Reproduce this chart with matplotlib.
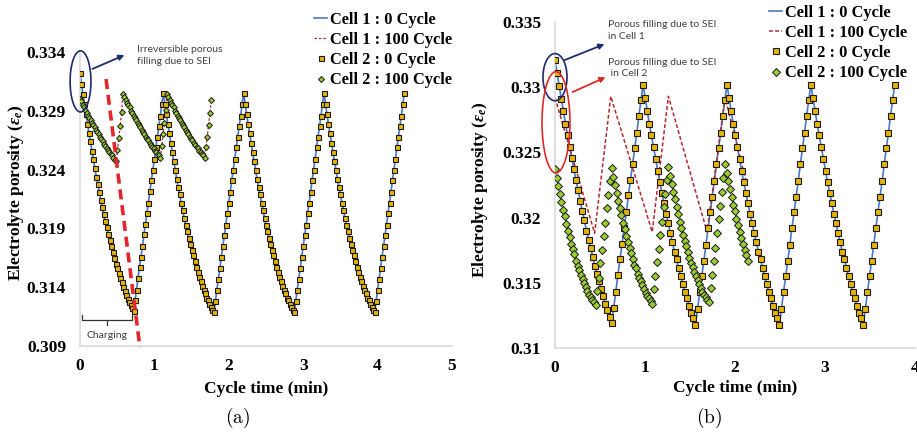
import numpy as np
import matplotlib.pyplot as plt
from matplotlib.patches import Ellipse

plt.rcParams['font.family'] = 'Liberation Serif'
plt.rcParams['font.weight'] = 'bold'
plt.rcParams['mathtext.fontset'] = 'custom'
plt.rcParams['mathtext.rm'] = 'Liberation Serif:bold'
plt.rcParams['mathtext.it'] = 'Liberation Serif:italic:bold'
plt.rcParams['mathtext.bf'] = 'Liberation Serif:bold'

# output interval of each simulated series (min)
step_0_a = 0.02
step_100_a = 0.018
step_0_b = 0.0233
step_100_b = 0.018

# (a) cells 1 and 2 give the same porosity at 0 and at 100 cycles
cell2_0_a = [
    0.3322, 0.3313, 0.3304, 0.3296, 0.3287, 0.3279, 0.3271, 0.3264, 0.3256, 0.3249,
    0.3241, 0.3234, 0.3228, 0.3221, 0.3214, 0.3208, 0.3202, 0.3196, 0.3191, 0.3185,
    0.3180, 0.3175, 0.3170, 0.3165, 0.3160, 0.3156, 0.3152, 0.3148, 0.3144, 0.3140,
    0.3137, 0.3133, 0.3130, 0.3127, 0.3125, 0.3122, 0.3120,
    0.3129, 0.3138, 0.3148, 0.3157, 0.3166, 0.3175, 0.3185, 0.3194, 0.3203, 0.3212,
    0.3222, 0.3231, 0.3240, 0.3249, 0.3259, 0.3268, 0.3277, 0.3286, 0.3296, 0.3305,
    0.3296, 0.3287, 0.3279, 0.3271, 0.3263, 0.3255, 0.3247, 0.3240, 0.3232, 0.3225,
    0.3219, 0.3212, 0.3206, 0.3199, 0.3193, 0.3188, 0.3182, 0.3177, 0.3172, 0.3167,
    0.3162, 0.3157, 0.3153, 0.3149, 0.3145, 0.3141, 0.3138, 0.3135, 0.3131, 0.3129,
    0.3126, 0.3123, 0.3121, 0.3119,
    0.3128, 0.3138, 0.3147, 0.3156, 0.3166, 0.3175, 0.3184, 0.3193, 0.3203, 0.3212,
    0.3221, 0.3231, 0.3240, 0.3249, 0.3259, 0.3268, 0.3277, 0.3286, 0.3296, 0.3305,
    0.3296, 0.3287, 0.3279, 0.3271, 0.3263, 0.3255, 0.3247, 0.3240, 0.3232, 0.3225,
    0.3219, 0.3212, 0.3206, 0.3199, 0.3193, 0.3188, 0.3182, 0.3177, 0.3172, 0.3167,
    0.3162, 0.3157, 0.3153, 0.3149, 0.3145, 0.3141, 0.3138, 0.3135, 0.3131, 0.3129,
    0.3126, 0.3123, 0.3121, 0.3119,
    0.3128, 0.3138, 0.3147, 0.3156, 0.3166, 0.3175, 0.3184, 0.3193, 0.3203, 0.3212,
    0.3221, 0.3231, 0.3240, 0.3249, 0.3259, 0.3268, 0.3277, 0.3286, 0.3296, 0.3305,
    0.3296, 0.3287, 0.3279, 0.3271, 0.3263, 0.3255, 0.3247, 0.3240, 0.3232, 0.3225,
    0.3219, 0.3212, 0.3206, 0.3199, 0.3193, 0.3188, 0.3182, 0.3177, 0.3172, 0.3167,
    0.3162, 0.3157, 0.3153, 0.3149, 0.3145, 0.3141, 0.3138, 0.3135, 0.3131, 0.3129,
    0.3126, 0.3123, 0.3121, 0.3119,
    0.3128, 0.3138, 0.3147, 0.3156, 0.3166, 0.3175, 0.3184, 0.3193, 0.3203, 0.3212,
    0.3221, 0.3231, 0.3240, 0.3249, 0.3259, 0.3268, 0.3277, 0.3286, 0.3296, 0.3305,
]
cell1_0_a = cell2_0_a

cell2_100_a = [
    0.3300, 0.3298, 0.3295, 0.3293, 0.3291, 0.3288, 0.3286, 0.3284, 0.3282, 0.3280,
    0.3278, 0.3276, 0.3274, 0.3272, 0.3270, 0.3268, 0.3266, 0.3264, 0.3262, 0.3260,
    0.3258, 0.3257, 0.3255, 0.3253, 0.3252, 0.3250, 0.3248, 0.3247,
    0.3257, 0.3267, 0.3277, 0.3289, 0.3304,
    0.3302, 0.3299, 0.3297, 0.3295, 0.3293, 0.3290, 0.3288, 0.3286, 0.3284, 0.3282,
    0.3280, 0.3278, 0.3276, 0.3274, 0.3272, 0.3270, 0.3268, 0.3266, 0.3265, 0.3263,
    0.3261, 0.3259, 0.3258, 0.3256, 0.3255, 0.3253, 0.3252, 0.3250,
    0.3260, 0.3270, 0.3280, 0.3291, 0.3304,
    0.3302, 0.3299, 0.3297, 0.3295, 0.3293, 0.3290, 0.3288, 0.3286, 0.3284, 0.3282,
    0.3280, 0.3278, 0.3276, 0.3274, 0.3272, 0.3270, 0.3268, 0.3266, 0.3265, 0.3263,
    0.3261, 0.3259, 0.3258, 0.3256, 0.3255, 0.3253, 0.3252, 0.3250,
    0.3259, 0.3268, 0.3278, 0.3288, 0.3299,
]
cell1_100_a = cell2_100_a

# (b)
cell2_0_b = [
    0.3321, 0.3311, 0.3301, 0.3291, 0.3282, 0.3272, 0.3263, 0.3254, 0.3246, 0.3237,
    0.3229, 0.3221, 0.3213, 0.3205, 0.3198, 0.3190, 0.3183, 0.3177, 0.3170, 0.3163,
    0.3157, 0.3151, 0.3145, 0.3140, 0.3134, 0.3129, 0.3124, 0.3119,
    0.3131, 0.3143, 0.3156, 0.3168, 0.3180, 0.3192, 0.3204, 0.3217, 0.3229, 0.3241,
    0.3253, 0.3265, 0.3278, 0.3290, 0.3302,
    0.3292, 0.3282, 0.3272, 0.3263, 0.3254, 0.3245, 0.3236, 0.3227, 0.3219, 0.3211,
    0.3203, 0.3196, 0.3188, 0.3181, 0.3174, 0.3168, 0.3161, 0.3155, 0.3149, 0.3143,
    0.3138, 0.3132, 0.3127, 0.3123, 0.3118,
    0.3130, 0.3143, 0.3155, 0.3167, 0.3179, 0.3192, 0.3204, 0.3216, 0.3228, 0.3241,
    0.3253, 0.3265, 0.3278, 0.3290, 0.3302,
    0.3292, 0.3282, 0.3272, 0.3263, 0.3254, 0.3245, 0.3236, 0.3227, 0.3219, 0.3211,
    0.3203, 0.3196, 0.3188, 0.3181, 0.3174, 0.3168, 0.3161, 0.3155, 0.3149, 0.3143,
    0.3138, 0.3132, 0.3127, 0.3123, 0.3118,
    0.3130, 0.3143, 0.3155, 0.3167, 0.3179, 0.3192, 0.3204, 0.3216, 0.3228, 0.3241,
    0.3253, 0.3265, 0.3278, 0.3290, 0.3302,
    0.3292, 0.3282, 0.3272, 0.3263, 0.3254, 0.3245, 0.3236, 0.3227, 0.3219, 0.3211,
    0.3203, 0.3196, 0.3188, 0.3181, 0.3174, 0.3168, 0.3161, 0.3155, 0.3149, 0.3143,
    0.3138, 0.3132, 0.3127, 0.3123, 0.3118,
    0.3130, 0.3143, 0.3155, 0.3167, 0.3179, 0.3192, 0.3204, 0.3216, 0.3228, 0.3241,
    0.3253, 0.3265, 0.3278, 0.3290, 0.3302,
]
cell1_0_b = cell2_0_b

cell2_100_b = [
    0.3237, 0.3230, 0.3224, 0.3218, 0.3212, 0.3206, 0.3201, 0.3195, 0.3190, 0.3185,
    0.3180, 0.3176, 0.3172, 0.3167, 0.3163, 0.3160, 0.3156, 0.3153, 0.3150, 0.3147,
    0.3144, 0.3141, 0.3139, 0.3137, 0.3135, 0.3133,
    0.3144, 0.3154, 0.3165, 0.3175, 0.3186, 0.3196, 0.3207, 0.3217, 0.3228, 0.3238,
    0.3231, 0.3225, 0.3219, 0.3213, 0.3207, 0.3202, 0.3196, 0.3191, 0.3186, 0.3181,
    0.3177, 0.3173, 0.3168, 0.3164, 0.3161, 0.3157, 0.3154, 0.3151, 0.3148, 0.3145,
    0.3142, 0.3140, 0.3138, 0.3136, 0.3134,
    0.3145, 0.3155, 0.3166, 0.3176, 0.3187, 0.3197, 0.3208, 0.3218, 0.3229, 0.3239,
    0.3232, 0.3226, 0.3220, 0.3214, 0.3208, 0.3203, 0.3197, 0.3192, 0.3187, 0.3182,
    0.3178, 0.3174, 0.3169, 0.3165, 0.3162, 0.3158, 0.3155, 0.3152, 0.3149, 0.3146,
    0.3143, 0.3141, 0.3139, 0.3137, 0.3135,
    0.3146, 0.3156, 0.3167, 0.3177, 0.3188, 0.3199, 0.3209, 0.3220, 0.3230, 0.3241,
    0.3234, 0.3228, 0.3222, 0.3216, 0.3210, 0.3205, 0.3199, 0.3194, 0.3189, 0.3184,
    0.3180, 0.3175, 0.3171, 0.3167,
]

cell1_100_b_time = [0.0, 0.44, 0.62, 1.08, 1.26, 1.69, 1.89, 2.13]
cell1_100_b = [0.3292, 0.3188, 0.3293, 0.3189, 0.3293, 0.3189, 0.3292, 0.3226]

labels = ['Cell 1 : 0 Cycle', 'Cell 1 : 100 Cycle', 'Cell 2 : 0 Cycle', 'Cell 2 : 100 Cycle']
yticks_a = [0.309, 0.314, 0.319, 0.324, 0.329, 0.334]
yticklabels_a = ['0.309', '0.314', '0.319', '0.324', '0.329', '0.334']
yticks_b = [0.31, 0.315, 0.32, 0.325, 0.33, 0.335]
yticklabels_b = ['0.31', '0.315', '0.32', '0.325', '0.33', '0.335']

BLUE = '#4a78c8'
RED = '#b5272d'
GOLD = '#e6b400'
GREEN = '#9acd32'
NAVY = '#1f2b6e'
NOTE = '#404040'


def times(values, step):
    return np.arange(len(values)) * step


def draw_series(ax, t0, y0, t_c1, y_c1, t100, y100, ms_sq, ms_di, red_lw, red_dash):
    l1, = ax.plot(t0, y0, color=BLUE, lw=1.2, zorder=2)
    l2, = ax.plot(t_c1, y_c1, color=RED, lw=red_lw, dashes=red_dash, zorder=2)
    l3, = ax.plot(t0, y0, ls='none', marker='s', ms=ms_sq, mfc=GOLD, mec='#1a1a1a',
                  mew=0.8, zorder=3)
    l4, = ax.plot(t100, y100, ls='none', marker='D', ms=ms_di, mfc=GREEN, mec='#1a1a1a',
                  mew=0.7, zorder=4)
    return [l1, l2, l3, l4]


def style_axis(ax, xlim, ylim, yticks, yticklabels, xticks):
    ax.set_xlim(*xlim)
    ax.set_ylim(*ylim)
    ax.set_yticks(yticks)
    ax.set_yticklabels(yticklabels)
    ax.set_xticks(xticks)
    ax.set_xticklabels([str(x) for x in xticks])
    for s in ['top', 'right']:
        ax.spines[s].set_visible(False)
    for s in ['left', 'bottom']:
        ax.spines[s].set_color('#d9d9d9')
        ax.spines[s].set_linewidth(1.2)
    ax.tick_params(length=0, labelsize=12.5)
    ax.tick_params(axis='y', pad=10)
    ax.tick_params(axis='x', pad=9)
    ax.set_xlabel('Cycle time (min)', fontsize=12.5, fontweight='bold')
    ax.set_ylabel(r'Electrolyte porosity ($\varepsilon_e$)', fontsize=12.5, fontweight='bold')


fig = plt.figure(figsize=(9.17, 4.32), dpi=100)
ax_a = fig.add_axes([80 / 917, 86 / 432, 372 / 917, 294 / 432])
ax_b = fig.add_axes([555 / 917, 84 / 432, 360 / 917, 326 / 432])

legend_kw = dict(loc='upper left', frameon=False, handlelength=0.8, handletextpad=0.15,
                 labelspacing=0.25, borderpad=0, borderaxespad=0,
                 prop=dict(family='Liberation Serif', weight='bold', size=11.8),
                 bbox_transform=fig.transFigure)

# ---- (a) ----
ta0 = times(cell2_0_a, step_0_a)
ta100 = times(cell2_100_a, step_100_a)
h = draw_series(ax_a, ta0, cell2_0_a, ta100, cell1_100_a, ta100, cell2_100_a,
                3.6, 3.0, 0.9, (2, 1.5))
style_axis(ax_a, (0, 5), (0.309, 0.334), yticks_a, yticklabels_a, [0, 1, 2, 3, 4, 5])
ax_a.xaxis.set_label_coords(0.5, -0.118)
ax_a.yaxis.set_label_coords(-0.145, 0.52)
ax_a.legend(h, labels, bbox_to_anchor=(314 / 917, 1 - 12 / 432), **legend_kw)

# slope of the porosity minima
ax_a.plot([0.35, 0.805], [0.3317, 0.3089], color='#e3262b', lw=2.6, dashes=(2.8, 1.6),
          clip_on=False, zorder=5)
ax_a.add_patch(Ellipse((0.007, 0.3315), 0.28, 0.0052, fill=False, ec=NAVY, lw=1.2,
                       clip_on=False, zorder=6))
ax_a.annotate('', xy=(0.631, 0.33383), xytext=(0.134, 0.33247),
              arrowprops=dict(arrowstyle='-|>', color=NAVY, lw=1.3, mutation_scale=8),
              annotation_clip=False)
ax_a.text(0.765, 0.3337, 'Irreversible porous\nfilling due to SEI', family='Lato',
          fontweight='normal', fontsize=7.5, color=NOTE, ha='left', va='center',
          linespacing=1.3, clip_on=False)
# charging brace
ax_a.plot([0.027, 0.027, 0.698, 0.698], [0.31163, 0.3112, 0.3112, 0.31163],
          color='#333333', lw=0.9, clip_on=False)
ax_a.plot([0.362, 0.362], [0.3112, 0.31075], color='#333333', lw=0.9, clip_on=False)
ax_a.text(0.36, 0.30993, 'Charging', family='Lato', fontweight='normal', fontsize=7.5,
          color=NOTE, ha='center', va='center')

# ---- (b) ----
tb0 = times(cell2_0_b, step_0_b)
tb100 = times(cell2_100_b, step_100_b)
h = draw_series(ax_b, tb0, cell2_0_b, cell1_100_b_time, cell1_100_b, tb100, cell2_100_b,
                3.8, 3.6, 1.1, (2.5, 1.5))
style_axis(ax_b, (0, 4), (0.31, 0.335), yticks_b, yticklabels_b, [0, 1, 2, 3, 4])
ax_b.xaxis.set_label_coords(0.5, -0.098)
ax_b.yaxis.set_label_coords(-0.18, 0.485)
ax_b.legend(h, labels, bbox_to_anchor=(769 / 917, 1 - 5 / 432), **legend_kw)

ax_b.add_patch(Ellipse((0.0, 0.33077), 0.267, 0.00362, fill=False, ec=NAVY, lw=1.2,
                       clip_on=False, zorder=6))
ax_b.add_patch(Ellipse((0.011, 0.32731), 0.311, 0.00777, fill=False, ec='#e02a2a', lw=1.2,
                       clip_on=False, zorder=6))
ax_b.annotate('', xy=(0.578, 0.33338), xytext=(0.078, 0.3320),
              arrowprops=dict(arrowstyle='-|>', color=NAVY, lw=1.3, mutation_scale=8),
              annotation_clip=False)
ax_b.annotate('', xy=(0.589, 0.33085), xytext=(0.167, 0.32954),
              arrowprops=dict(arrowstyle='-|>', color='#e02a2a', lw=1.3, mutation_scale=8),
              annotation_clip=False)
ax_b.text(0.589, 0.33435, 'Porous filling due to SEI\nin Cell 1', family='Lato',
          fontweight='normal', fontsize=7.5, color=NOTE, ha='left', va='center',
          linespacing=1.3, clip_on=False)
ax_b.text(0.589, 0.33146, 'Porous filling due to SEI\n in Cell 2', family='Lato',
          fontweight='normal', fontsize=7.5, color=NOTE, ha='left', va='center',
          linespacing=1.3, clip_on=False)

fig.text(238 / 917, 1 - 418 / 432, r'$\mathrm{(a)}$', math_fontfamily='cm', fontsize=14,
         ha='center', va='center')
fig.text(709 / 917, 1 - 418 / 432, r'$\mathrm{(b)}$', math_fontfamily='cm', fontsize=14,
         ha='center', va='center')

fig.savefig('out.png', dpi=100)
